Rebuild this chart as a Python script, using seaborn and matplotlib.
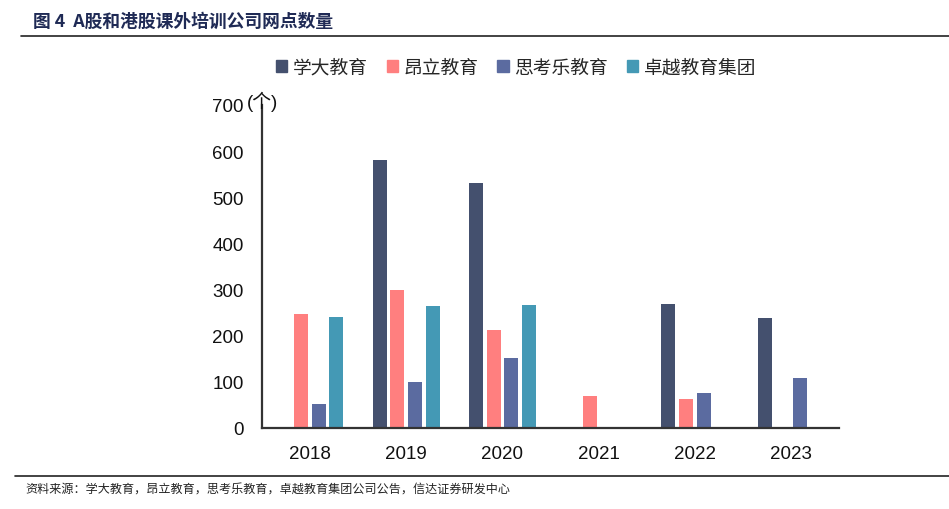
import numpy as np
import pandas as pd
import matplotlib
matplotlib.use("Agg")
import matplotlib.pyplot as plt
import seaborn as sns

years = ["2018", "2019", "2020", "2021", "2022", "2023"]
companies = ["学大教育", "昂立教育", "思考乐教育", "卓越教育集团"]
xueda = [np.nan, 580, 530, np.nan, 268, 238]
angli = [248, 300, 213, 70, 62, np.nan]
sikaole = [53, 100, 151, np.nan, 76, 109]
zhuoyue = [240, 264, 267, np.nan, np.nan, np.nan]
colors = ["#44506E", "#FF7F7F", "#5B6BA0", "#4499B5"]

rows = []
for comp, vals in zip(companies, [xueda, angli, sikaole, zhuoyue]):
    for y, v in zip(years, vals):
        rows.append({"year": y, "company": comp, "value": v})
df = pd.DataFrame(rows)

sns.set_style("white")
plt.rcParams["font.family"] = ["Liberation Sans", "Noto Sans CJK SC", "DejaVu Sans"]

fig = plt.figure(figsize=(9.49, 5.10), dpi=100)
ax = fig.add_axes([262/949, 1-429/510, (839-262)/949, (429-106)/510])

sns.barplot(data=df, x="year", y="value", hue="company", order=years,
            hue_order=companies, palette=colors, width=0.73, gap=0.2,
            saturation=1, errorbar=None, ax=ax, legend=False, edgecolor="none")

ax.set_xlim(-0.5, 5.5)
ax.set_ylim(0, 700)
ax.set_yticks(range(0, 701, 100))
ax.set_xlabel("")
ax.set_ylabel("")
for s in ["top", "right"]:
    ax.spines[s].set_visible(False)
for s in ["left", "bottom"]:
    ax.spines[s].set_color("#333333")
    ax.spines[s].set_linewidth(1.6)

ax.tick_params(axis="y", direction="in", length=4, width=1.2, color="#333333",
               labelsize=13.5, pad=13, labelcolor="#111111")
ax.tick_params(axis="x", which="major", length=0, labelsize=13.5, pad=12,
               labelcolor="#111111")
ax.set_xticks(np.arange(-0.5, 6, 1), minor=True)
ax.tick_params(axis="x", which="minor", direction="out", length=5, width=1.2,
               color="#333333")

ax.text(-0.026, 1.012, "(个)", transform=ax.transAxes, fontsize=13.5,
        ha="left", va="center", color="#111111")

handles = [plt.Rectangle((0, 0), 1, 1, color=c) for c in colors]
fig.legend(handles, companies, loc="center", bbox_to_anchor=(516/949, 1-69/510),
           ncol=4, frameon=False, fontsize=13.5, handlelength=0.6,
           handleheight=0.6, handletextpad=0.3, columnspacing=1.0)

fig.text(33/949, 1-22/510, "图 4  A股和港股课外培训公司网点数量", fontsize=12.8,
         fontweight="bold", color="#1F2A55", ha="left", va="center",
         family=["Noto Sans CJK SC", "DejaVu Sans"])
fig.add_artist(plt.Line2D([21/949, 1], [1-37/510, 1-37/510], color="#222222",
                          linewidth=1.2))
fig.add_artist(plt.Line2D([15/949, 1], [1-477/510, 1-477/510], color="#222222",
                          linewidth=1.2))
fig.text(25/949, 1-490/510,
         "资料来源：学大教育，昂立教育，思考乐教育，卓越教育集团公司公告，信达证券研发中心",
         fontsize=8.7, color="#222222", ha="left", va="center",
         family=["Noto Sans CJK SC", "DejaVu Sans"])

fig.savefig("out.png", dpi=100)
